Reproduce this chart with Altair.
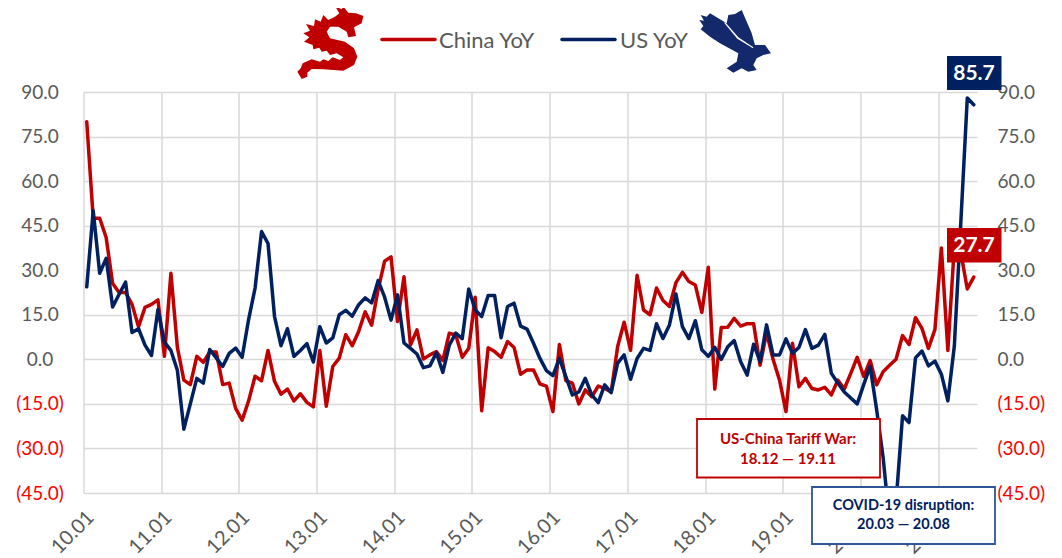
import json
import altair as alt
import pandas as pd

china = [
    80, 47.5, 47.5, 41, 25.5, 22.5, 22.5, 18.5, 11, 17.5, 18.5, 20,
    1, 29, 4, -7, -8.5, 1, -1, 2.5, 2.5, -8.5, -8, -16.5,
    -20.5, -14, -5.7, -7.2, 3, -7.4, -11.7, -10, -14, -11.6, -14.5, -16,
    3, -15.8, -2.4, 0.4, 8.3, 4.6, 9.4, 16, 11.5, 23.5, 33, 34.5,
    12.7, 27.8, 4.8, 9.9, 0.1, 1.5, 2.6, -0.4, 8.8, 8.2, 0.7, 3.7,
    20.9, -17.3, 3.9, 2.6, 0.7, 6, 4, -5, -3.6, -3.6, -8.3, -9,
    -17.6, 5, -7.2, -8, -15, -10.3, -12.6, -9, -9.8, -11, 4.3, 12.5,
    3, 28.3, 16.6, 15, 24, 19.8, 17.8, 25.8, 29.3, 26.2, 25, 15.8,
    31, -10, 10.7, 10.8, 13.8, 11.2, 12, 12, -2, 9, 0, -7,
    -17.6, 5.4, -9.2, -6.4, -9.8, -10.3, -9.4, -12, -7, -10, -4.7, 0.7,
    -5.8, -0.4, -8.6, -4.2, -2, 0, 8, 5, 14, 10.4, 3.7, 10,
    37.5, 3, 38, 36, 23.7, 27.7,
]
us = [
    24.4, 50, 29, 34, 17.6, 21.9, 26, 9, 10.3, 4.8, 1.3, 16.8,
    5.8, 3, -3.7, -23.5, -15, -6.4, -8, 3.3, 0.5, -2.4, 2, 3.8,
    0.7, 13.4, 24, 43, 39, 14.5, 4.6, 10.3, 1, 3, 5.3, -0.9,
    11, 5.5, 7.2, 15, 16.5, 14.5, 18.4, 20.7, 19, 26.5, 21, 13.2,
    21.7, 5.5, 3.7, 1.8, -2.8, -2.2, 2.2, -4.4, 4.8, 8.8, 7, 23.7,
    16.6, 14.4, 21.5, 21.5, 7.3, 17.8, 18.9, 11.2, 10.2, 5.4, 0.3, -3.8,
    -5.5, 0.3, -5.8, -12, -11, -6.4, -12, -14.6, -8.6, -11.2, -1.3, 1.5,
    -6.7, 0.3, 3.7, 3, 12, 7, 11.6, 22, 11, 7, 13, 3.2,
    1, 4, 0, 4.2, 6.3, -0.8, -5.3, 5.1, -0.8, 11.6, 1.5, 1.5,
    6.9, 2, 4, 10, 3.7, 4.8, 8.4, -4.7, -8, -11, -13, -15,
    -8.5, -2.4, -17, -33, -55, -48, -19, -21.3, 0.5, 2.8, -2.2, -0.6,
    -5, -14, 4.5, 46, 88, 85.7,
]
year_labels = ["10.01", "11.01", "12.01", "13.01", "14.01", "15.01",
               "16.01", "17.01", "18.01", "19.01", "20.01", "21.01"]
y_ticks = [90, 75, 60, 45, 30, 15, 0, -15, -30, -45]

RED, NAVY, GRID, GREY, BRIGHT = "#C00000", "#002060", "#D9D9D9", "#595959", "#FF0000"
FONT = "Lato"
L, T, W, H = 83.5, 92, 893.5, 401   # plot origin in the page, plot size


def px(v):
    return alt.value(v - L)


def py(v):
    return alt.value(v - T)


df = pd.DataFrame({"i": range(len(china)), "china": china, "us": us})
x_scale = alt.Scale(domain=[-0.5, len(china) - 0.5], nice=False, zero=False)
y_scale = alt.Scale(domain=[-45, 90], nice=False, zero=False)
y_label = "datum.value<0 ? '('+format(-datum.value,'.1f')+')' : format(datum.value,'.1f')"
y_color = alt.expr(f"datum.value<0 ? '{BRIGHT}' : '{GREY}'")

x_axis = alt.Axis(
    values=[12 * k - 0.5 for k in range(len(year_labels))],
    labelExpr=f"{json.dumps(year_labels)}[(datum.value+0.5)/12]",
    title=None, domain=False, ticks=False, grid=True, gridColor=GRID, gridWidth=1.5,
    labelAngle=-45, labelAlign="right", labelBaseline="top", labelOffset=0, labelPadding=14,
    labelFont=FONT, labelFontSize=20, labelColor=GREY, labelOverlap=False, labelBound=False,
    labelFlush=False,
)
left_axis = alt.Axis(
    orient="left", values=y_ticks, labelExpr=y_label, title=None, domain=False, ticks=False,
    grid=True, gridColor=GRID, gridWidth=1.5, labelFont=FONT, labelFontSize=19,
    labelColor=y_color, labelAlign="center", labelPadding=44, labelOverlap=False,
    labelBound=False, labelFlush=False,
)
right_axis = alt.Axis(
    orient="right", values=y_ticks, labelExpr=y_label, title=None, domain=False, ticks=False,
    grid=False, labelFont=FONT, labelFontSize=19, labelColor=y_color, labelAlign="left",
    labelPadding=20, labelOverlap=False, labelBound=False, labelFlush=False,
)

line_china = alt.Chart(df).mark_line(
    color=RED, strokeWidth=3.5, strokeJoin="round", strokeCap="round"
).encode(
    x=alt.X("i:Q", scale=x_scale, axis=x_axis),
    y=alt.Y("china:Q", scale=y_scale, axis=left_axis),
)
line_us = alt.Chart(df).mark_line(
    color=NAVY, strokeWidth=3.5, strokeJoin="round", strokeCap="round"
).encode(
    x=alt.X("i:Q", scale=x_scale, axis=x_axis),
    y=alt.Y("us:Q", scale=y_scale, axis=right_axis),
)

one = pd.DataFrame({"a": [0]})


def rect(x0, x1, y0, y1, fill, stroke=None, sw=0):
    kw = {"fill": fill}
    if stroke:
        kw.update(stroke=stroke, strokeWidth=sw)
    return alt.Chart(one).mark_rect(**kw).encode(x=px(x0), x2=px(x1), y=py(y0), y2=py(y1))


def label(s, x, y, color, size, bold=True, align="center"):
    return alt.Chart(pd.DataFrame({"t": [s]})).mark_text(
        font=FONT, fontSize=size, fontWeight="bold" if bold else "normal",
        color=color, align=align, baseline="middle",
    ).encode(x=px(x), y=py(y), text="t:N")


def swatch(x0, x1, y, color):
    return alt.Chart(one).mark_rule(color=color, strokeWidth=3.5, strokeCap="round").encode(
        x=px(x0), x2=px(x1), y=py(y)
    )


def logo(points, cx, cy, half, color):
    d = "M" + "L".join(f"{(a / 3 + 280 - cx) / half:.3f},{(b / 3 - cy) / half:.3f}" for a, b in points) + "Z"
    return alt.Chart(one).mark_point(
        shape=d, filled=True, fill=color, opacity=1, stroke=None, size=(2 * half) ** 2
    ).encode(x=px(cx), y=py(cy))


dragon = [(65, 237), (52, 215), (62, 205), (68, 190), (95, 178), (120, 185), (130, 178), (145, 183),
          (158, 172), (180, 180), (190, 172), (170, 160), (150, 165), (140, 152), (125, 155), (118, 143),
          (100, 148), (98, 135), (72, 125), (88, 112), (70, 100), (90, 92), (78, 72), (102, 78),
          (105, 58), (122, 65), (130, 45), (145, 60), (165, 50), (178, 40), (165, 18), (185, 28),
          (190, 20), (205, 38), (228, 40), (250, 48), (245, 70), (222, 82), (228, 108), (205, 112),
          (200, 95), (175, 80), (150, 80), (140, 95), (150, 115), (195, 125), (222, 145), (232, 170),
          (222, 195), (190, 212), (130, 208), (95, 207), (82, 218), (82, 230)]
eagle = [(1258, 60), (1272, 62), (1262, 45), (1280, 50), (1290, 40), (1340, 70), (1345, 45), (1365, 42),
         (1385, 30), (1415, 100), (1425, 135), (1455, 135), (1473, 160), (1450, 165), (1430, 175),
         (1420, 195), (1430, 210), (1405, 215), (1385, 205), (1360, 218), (1340, 205), (1370, 185),
         (1375, 160), (1320, 130), (1290, 110), (1262, 88), (1270, 78)]
eagle_line = [(1335, 66), (1375, 112), (1420, 142), (1419, 145), (1372, 116), (1333, 69)]

layers = [
    line_china,
    line_us,
    swatch(382, 435, 39.5, RED),
    swatch(562, 615, 39.5, NAVY),
    label("China YoY", 439, 40.5, GREY, 22, bold=False, align="left"),
    label("US YoY", 620, 40.5, GREY, 22, bold=False, align="left"),
    logo(dragon, 330, 42, 40, RED),
    logo(eagle, 735, 42, 40, "#14296B"),
    logo(eagle_line, 735, 42, 40, "#FFFFFF"),
    rect(947, 1001.5, 56, 90, NAVY),
    label("85.7", 974, 73.5, "#FFFFFF", 21),
    rect(947, 1001.5, 228, 262.5, RED),
    label("27.7", 974, 246, "#FFFFFF", 21),
    rect(697, 880, 419, 477.5, "#FFFFFF", RED, 1.8),
    label("US-China Tariff War:", 788, 439, RED, 15),
    label("18.12 — 19.11", 788, 459, RED, 15),
    rect(812, 995, 487, 544, "#FFFFFF", "#2F5597", 1.8),
    label("COVID-19 disruption:", 903.5, 506, NAVY, 14.5),
    label("20.03 — 20.08", 903.5, 525, NAVY, 14.5),
]

chart = alt.layer(*layers).resolve_scale(y="independent").properties(
    width=W, height=H,
    autosize=alt.AutoSizeParams(type="none"),
    padding={"left": L - 8, "top": T - 8, "right": 1062 - 8 - L - W - 8, "bottom": 558 - T - H},
    background="#FFFFFF",
).configure_view(stroke=None)

chart.save("out.html", embed_options={"renderer": "svg", "actions": False})
